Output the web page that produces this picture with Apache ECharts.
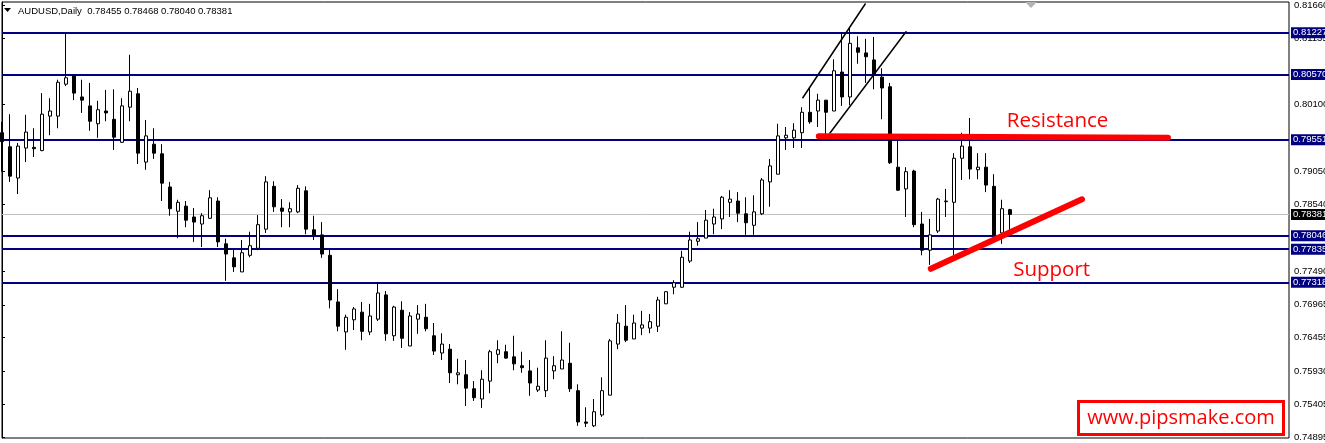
<!DOCTYPE html>
<html><head><meta charset="utf-8">
<script src="https://cdn.jsdelivr.net/npm/echarts@6/dist/echarts.min.js"></script>
<style>html,body{margin:0;padding:0;background:#fff}#c{width:1325px;height:443px}</style>
</head><body><div id="c"></div>
<script>
// ---- data ----
const symbolName = 'AUDUSD,Daily';
const lastQuote = ['0.78455', '0.78468', '0.78040', '0.78381'];
// [open, close, low, high]
const ohlc = [
[0.7966,0.7952,0.7905,0.7983],[0.7944,0.7898,0.7889,0.7995],[0.7895,0.7945,0.7870,0.7950],[0.7942,0.7967,0.7920,0.7994],
[0.7943,0.7941,0.7928,0.7973],[0.7938,0.7995,0.7937,0.8028],[0.7992,0.8000,0.7962,0.8020],[0.7992,0.8045,0.7973,0.8049],
[0.8042,0.8052,0.8039,0.8122],[0.8056,0.8028,0.8017,0.8057],[0.8022,0.8017,0.7997,0.8049],[0.8008,0.7984,0.7969,0.8044],
[0.7980,0.8002,0.7958,0.8016],[0.8000,0.7997,0.7984,0.8033],[0.7987,0.7959,0.7939,0.8034],[0.7951,0.8008,0.7950,0.8020],
[0.8006,0.8031,0.7984,0.8088],[0.8027,0.7934,0.7917,0.8036],[0.7920,0.7961,0.7908,0.7986],[0.7948,0.7934,0.7925,0.7973],
[0.7933,0.7887,0.7859,0.7948],[0.7881,0.7847,0.7836,0.7889],[0.7843,0.7857,0.7801,0.7861],[0.7851,0.7829,0.7818,0.7859],
[0.7834,0.7826,0.7795,0.7848],[0.7823,0.7836,0.7787,0.7840],[0.7832,0.7864,0.7831,0.7876],[0.7859,0.7795,0.7787,0.7865],
[0.7792,0.7776,0.7734,0.7800],[0.7770,0.7756,0.7748,0.7784],[0.7748,0.7778,0.7748,0.7798],[0.7774,0.7789,0.7771,0.7811],
[0.7785,0.7822,0.7782,0.7837],[0.7815,0.7889,0.7809,0.7898],[0.7882,0.7850,0.7842,0.7890],[0.7848,0.7843,0.7818,0.7862],
[0.7842,0.7847,0.7818,0.7857],[0.7842,0.7879,0.7840,0.7884],[0.7875,0.7815,0.7807,0.7882],[0.7814,0.7806,0.7798,0.7836],
[0.7806,0.7776,0.7770,0.7826],[0.7774,0.7704,0.7691,0.7784],[0.7701,0.7663,0.7655,0.7721],[0.7654,0.7677,0.7626,0.7681],
[0.7673,0.7690,0.7657,0.7693],[0.7685,0.7655,0.7641,0.7701],[0.7654,0.7679,0.7649,0.7698],[0.7674,0.7715,0.7671,0.7732],
[0.7712,0.7651,0.7640,0.7718],[0.7648,0.7693,0.7640,0.7695],[0.7688,0.7644,0.7629,0.7702],[0.7632,0.7679,0.7632,0.7685],
[0.7674,0.7682,0.7651,0.7696],[0.7677,0.7659,0.7655,0.7698],[0.7648,0.7624,0.7618,0.7668],[0.7621,0.7635,0.7610,0.7652],
[0.7627,0.7590,0.7574,0.7635],[0.7587,0.7590,0.7572,0.7612],[0.7587,0.7566,0.7538,0.7610],[0.7565,0.7551,0.7546,0.7577],
[0.7549,0.7580,0.7535,0.7594],[0.7577,0.7623,0.7558,0.7626],[0.7619,0.7626,0.7605,0.7641],[0.7623,0.7613,0.7612,0.7634],
[0.7615,0.7604,0.7594,0.7648],[0.7601,0.7598,0.7590,0.7623],[0.7593,0.7574,0.7554,0.7610],[0.7563,0.7569,0.7560,0.7598],
[0.7562,0.7613,0.7552,0.7641],[0.7593,0.7601,0.7580,0.7616],[0.7596,0.7610,0.7596,0.7655],[0.7605,0.7565,0.7560,0.7637],
[0.7562,0.7513,0.7507,0.7572],[0.7513,0.7511,0.7505,0.7536],[0.7507,0.7529,0.7505,0.7549],[0.7524,0.7562,0.7521,0.7583],
[0.7555,0.7640,0.7555,0.7643],[0.7635,0.7668,0.7627,0.7682],[0.7663,0.7641,0.7638,0.7696],[0.7643,0.7668,0.7643,0.7681],
[0.7660,0.7665,0.7649,0.7687],[0.7660,0.7670,0.7652,0.7682],[0.7663,0.7704,0.7654,0.7709],[0.7698,0.7717,0.7698,0.7718],
[0.7724,0.7731,0.7713,0.7735],[0.7724,0.7771,0.7723,0.7781],[0.7765,0.7798,0.7762,0.7811],[0.7796,0.7800,0.7789,0.7826],
[0.7801,0.7829,0.7801,0.7845],[0.7823,0.7834,0.7807,0.7847],[0.7831,0.7865,0.7815,0.7867],[0.7857,0.7862,0.7834,0.7876],
[0.7859,0.7840,0.7826,0.7873],[0.7839,0.7825,0.7806,0.7865],[0.7821,0.7842,0.7806,0.7868],[0.7839,0.7892,0.7837,0.7895],
[0.7889,0.7914,0.7850,0.7925],[0.7901,0.7961,0.7901,0.7980],[0.7958,0.7962,0.7939,0.7975],[0.7958,0.7970,0.7942,0.7981],
[0.7966,0.7998,0.7942,0.8006],[0.7998,0.7983,0.7980,0.8036],[0.8000,0.8017,0.7975,0.8027],[0.8017,0.7998,0.7961,0.8017],
[0.8000,0.8063,0.8000,0.8081],[0.8061,0.8022,0.8008,0.8122],[0.8022,0.8106,0.8009,0.8130],[0.8099,0.8092,0.8074,0.8117],
[0.8091,0.8085,0.8044,0.8113],[0.8080,0.8058,0.8034,0.8116],[0.8053,0.8036,0.7987,0.8067],[0.8038,0.7919,0.7917,0.8044],
[0.7912,0.7876,0.7875,0.7956],[0.7878,0.7905,0.7834,0.7912],[0.7906,0.7822,0.7818,0.7908],[0.7823,0.7782,0.7774,0.7842],
[0.7782,0.7806,0.7759,0.7831],[0.7812,0.7862,0.7809,0.7864],[0.7858,0.7859,0.7834,0.7878],[0.7857,0.7926,0.7774,0.7934],
[0.7926,0.7945,0.7892,0.7966],[0.7944,0.7909,0.7893,0.7989],[0.7908,0.7912,0.7893,0.7934],[0.7912,0.7884,0.7873,0.7934],
[0.7882,0.7806,0.7806,0.7901],[0.7809,0.7847,0.7792,0.7861],[0.78455,0.78381,0.78040,0.78468]
];
const days = ohlc.map((_, i) => i);
const levelLines = [0.81227, 0.80570, 0.79551, 0.78046, 0.77835, 0.77318];
const bidPrice = 0.78381;
const priceTicks = [0.81660, 0.81135, 0.80100, 0.79050, 0.78540, 0.77490, 0.76965, 0.76455, 0.75930, 0.75405, 0.74895];
const priceMin = 0.74879, priceMax = 0.81707;
const dayMax = 160.875;
const channelUpper = [[100.1, 0.80208], [107.9, 0.81676]];
const channelLower = [[103.5, 0.79655], [113.0, 0.81242]];
const resistanceLine = [[102.1, 0.79604], [145.75, 0.79582]];
const supportLine = [[116.1, 0.77529], [135.0, 0.78617]];
const notes = [{ text: 'Resistance', at: [125.6, 0.79844] }, { text: 'Support', at: [126.4, 0.77513] }];
const siteText = 'www.pipsmake.com';

// ---- chart ----
const chart = echarts.init(document.getElementById('c'), null, { renderer: 'canvas' });
const AX_FONT = '"Liberation Sans", Arial, sans-serif';
const candleData = days.map(d => [d].concat(ohlc[d]));

const levelData = levelLines.map(v => ({
  yAxis: v,
  lineStyle: { color: '#000080', width: 2, type: 'solid' },
  label: { backgroundColor: '#000080', color: '#fff' }
}));
levelData.push({
  yAxis: bidPrice,
  lineStyle: { color: '#c0c0c0', width: 1, type: 'solid' },
  label: { backgroundColor: '#000', color: '#fff' }
});

const red = '#ff0000';
function seg(name, data, color, width) {
  return {
    name, type: 'line', data, symbol: 'none', z: 4, silent: true, clip: true,
    lineStyle: { color, width, cap: 'round' }, animation: false
  };
}

const option = {
  animation: false,
  backgroundColor: '#fff',
  grid: {
    left: 2, right: 36, top: 2, bottom: 5, show: true, borderColor: '#000', borderWidth: 1, backgroundColor: '#fff',
    containLabel: false, outerBoundsMode: 'none'
  },
  xAxis: {
    type: 'value', min: 0, max: dayMax,
    axisLine: { show: false }, axisTick: { show: false }, axisLabel: { show: false }, splitLine: { show: false }
  },
  yAxis: {
    type: 'value', position: 'right', min: priceMin, max: priceMax, scale: true,
    axisLine: { show: true, lineStyle: { color: '#000', width: 1 } },
    axisTick: { show: true, length: 3, lineStyle: { color: '#000' }, customValues: priceTicks },
    axisLabel: {
      show: true, customValues: priceTicks, margin: 5, color: '#000',
      fontSize: 9.5, fontFamily: AX_FONT, formatter: v => v.toFixed(5)
    },
    splitLine: { show: false }
  },
  series: [
    {
      name: 'AUDUSD', type: 'candlestick', data: candleData, encode: { x: 0, y: [1, 2, 3, 4] },
      barWidth: 4, clip: true, z: 2, silent: true,
      itemStyle: { color: '#fff', color0: '#000', borderColor: '#000', borderColor0: '#000', borderWidth: 1 },
      markLine: {
        z: 1, silent: true, symbol: ['none', 'none'], precision: 5, animation: false,
        label: {
          show: true, position: 'end', distance: 2, formatter: p => Number(p.value).toFixed(5),
          fontSize: 9.5, fontFamily: AX_FONT, padding: [1, 2, 0, 2]
        },
        data: levelData
      }
    },
    seg('channel upper', channelUpper, '#000', 1.5),
    seg('channel lower', channelLower, '#000', 1.5),
    seg('resistance', resistanceLine, red, 6),
    Object.assign(seg('support', supportLine, red, 6), {
      markPoint: {
        silent: true, symbol: 'circle', symbolSize: 0, animation: false,
        label: { show: true, position: 'right', distance: 0, color: red, fontSize: 20.5, fontFamily: '"Open Sans", sans-serif' },
        data: notes.map(n => ({ coord: n.at, value: n.text, label: { formatter: n.text } }))
      }
    })
  ],
  graphic: [
    { type: 'polygon', shape: { points: [[4, 8], [11, 8], [7.5, 12]] }, style: { fill: '#000' }, silent: true },
    { type: 'text', x: 18, y: 11.5, style: { text: symbolName + '  ' + lastQuote.join(' '), fill: '#000', font: '9.5px "Liberation Sans", Arial, sans-serif', verticalAlign: 'middle' }, silent: true },
    { type: 'polygon', shape: { points: [[1025, 2], [1037, 2], [1031, 8]] }, style: { fill: '#b4b4b4' }, silent: true },
    { type: 'rect', shape: { x: 1078.5, y: 401.5, width: 205, height: 33 }, style: { fill: '#fff', stroke: red, lineWidth: 3 }, z: 10, silent: true },
    { type: 'text', x: 1181, y: 418, z: 11, style: { text: siteText, fill: red, font: '20px "Open Sans", sans-serif', align: 'center', verticalAlign: 'middle' }, silent: true }
  ]
};
chart.setOption(option);
</script>
</body></html>
